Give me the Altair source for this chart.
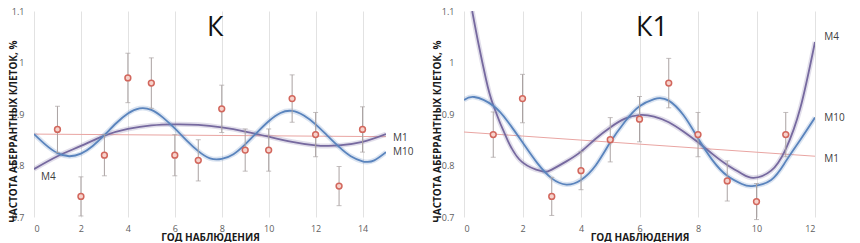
import altair as alt
import pandas as pd

# ---------------- Panel "К" ----------------
K_X = list(range(1, 15))
K_Y = [0.87, 0.74, 0.82, 0.97, 0.96, 0.82, 0.81, 0.91, 0.83, 0.83, 0.93, 0.86, 0.76, 0.87]
K_ERR = [0.045, 0.038, 0.04, 0.048, 0.049, 0.04, 0.04, 0.046, 0.041, 0.041, 0.046, 0.043, 0.038, 0.044]

K_M1_X = [0, 15]
K_M1_Y = [0.861, 0.856]

K_M4_X = [0, 1, 2, 3, 4, 5, 6, 7, 8, 9, 10, 11, 12, 12.5, 13, 14, 15]
K_M4_Y = [0.793, 0.818, 0.838, 0.858, 0.871, 0.878, 0.880, 0.879, 0.874, 0.866, 0.856,
          0.846, 0.839, 0.838, 0.839, 0.846, 0.861]

K_M10_X = [0, 0.5, 1, 1.5, 2, 2.5, 3, 3.5, 4, 4.5, 5, 5.5, 6, 6.5, 7, 7.5, 8, 8.5, 9, 9.5,
           10, 10.5, 11, 11.5, 12, 12.5, 13, 13.5, 14, 14.2, 14.5, 15]
K_M10_Y = [0.861, 0.840, 0.824, 0.818, 0.823, 0.838, 0.859, 0.882, 0.901, 0.911, 0.908,
           0.893, 0.872, 0.849, 0.828, 0.814, 0.813, 0.822, 0.841, 0.864, 0.886, 0.902,
           0.906, 0.897, 0.880, 0.858, 0.836, 0.818, 0.808, 0.807, 0.810, 0.826]

K_LAB_X = [15.3, 15.3, 0.3]
K_LAB_Y = [0.853, 0.826, 0.778]
K_LAB_T = ["M1", "M10", "M4"]

K_TITLE = "К"
K_TITLE_X = 7.72
K_TITLE_Y = 1.052

# ---------------- Panel "К1" ----------------
K1_X = list(range(1, 12))
K1_Y = [0.86, 0.93, 0.74, 0.79, 0.85, 0.89, 0.96, 0.86, 0.77, 0.73, 0.86]
K1_ERR = [0.044, 0.047, 0.037, 0.037, 0.043, 0.044, 0.048, 0.043, 0.039, 0.035, 0.043]

K1_M1_X = [0, 12]
K1_M1_Y = [0.865, 0.818]

K1_M4_X = [0.28, 0.5, 0.75, 1, 1.5, 2, 2.65, 3, 3.5, 4, 4.5, 5, 5.5, 6, 6.5, 7, 7.5, 8,
           8.5, 9, 9.5, 9.9, 10.5, 11, 11.5, 12]
K1_M4_Y = [1.10, 1.035, 0.968, 0.917, 0.848, 0.806, 0.789, 0.792, 0.808, 0.827, 0.852,
           0.874, 0.891, 0.898, 0.895, 0.884, 0.866, 0.845, 0.822, 0.801, 0.784, 0.776,
           0.790, 0.832, 0.912, 1.04]

K1_M10_X = [0, 0.35, 1, 1.5, 2, 2.5, 3, 3.5, 4, 4.5, 5, 5.5, 6, 6.5, 6.7, 7, 7.5, 8, 8.5,
            9, 9.5, 9.85, 10.5, 11, 11.5, 12]
K1_M10_Y = [0.927, 0.933, 0.916, 0.885, 0.845, 0.805, 0.775, 0.763, 0.772, 0.800, 0.845,
            0.885, 0.915, 0.929, 0.931, 0.926, 0.898, 0.853, 0.810, 0.780, 0.764, 0.760,
            0.772, 0.808, 0.850, 0.893]

K1_LAB_X = [12.32, 12.32, 12.32]
K1_LAB_Y = [1.05, 0.892, 0.813]
K1_LAB_T = ["M4", "M10", "M1"]

K1_TITLE = "К1"
K1_TITLE_X = 6.43
K1_TITLE_Y = 1.052

Y_TICKS = [0.7, 0.8, 0.9, 1.0, 1.1]

FONT = "Open Sans"
C_M1 = "#e9a5a2"
C_M4 = "#76699f"
C_M10 = "#5a84bd"
C_ERR = "#aaa2a2"
C_PT_FILL = "#f7d3cc"
C_PT_STROKE = "#d2675d"


def panel(title, tx, ty, xs, ys, errs, m1x, m1y, m4x, m4y, m10x, m10y,
          lx, ly, lt, xmax, xticks, width, title_x):
    pts = pd.DataFrame({"x": xs, "y": ys,
                        "lo": [v - e for v, e in zip(ys, errs)],
                        "hi": [v + e for v, e in zip(ys, errs)]})
    caps = pd.DataFrame({"x": xs + xs, "y": list(pts["lo"]) + list(pts["hi"])})
    m1 = pd.DataFrame({"x": m1x, "y": m1y})
    m4 = pd.DataFrame({"x": m4x, "y": m4y})
    m10 = pd.DataFrame({"x": m10x, "y": m10y})
    labs = pd.DataFrame({"x": lx, "y": ly, "t": lt})
    ttl = pd.DataFrame({"x": [tx], "y": [ty], "t": [title]})

    xscale = alt.Scale(domain=[0, xmax], nice=False, zero=False)
    yscale = alt.Scale(domain=[0.7, 1.1], nice=False, zero=False)
    xaxis = alt.Axis(values=xticks, grid=True, gridColor="#e2e2e2", domain=False,
                     ticks=False, labelColor="#606060", labelFontSize=9, labelFont=FONT,
                     labelPadding=7, title="ГОД НАБЛЮДЕНИЯ", titleFont=FONT,
                     titleFontSize=10, titleFontWeight="bold", titleColor="#1a1a1a",
                     titleY=15, titleBaseline="top")
    yaxis = alt.Axis(values=Y_TICKS, format="~g", grid=False, domain=False, ticks=False,
                     labelColor="#606060", labelFontSize=9, labelFont=FONT,
                     labelPadding=10, title="ЧАСТОТА  АБЕРРАНТНЫХ КЛЕТОК, %",
                     titleFont=FONT, titleFontSize=10, titleFontWeight="bold",
                     titleColor="#1a1a1a", titleX=title_x, titleY=120,
                     titleBaseline="bottom", titleAlign="center")
    X = alt.X("x:Q", scale=xscale, axis=xaxis)
    Y = alt.Y("y:Q", scale=yscale, axis=yaxis)

    def curve(df, color):
        glow = alt.Chart(df).mark_line(color=color, strokeWidth=5, opacity=0.22,
                                       interpolate="natural", clip=True).encode(x=X, y=Y)
        line = alt.Chart(df).mark_line(color=color, strokeWidth=1.8,
                                       interpolate="natural", clip=True).encode(x=X, y=Y)
        return [glow, line]

    m1_line = alt.Chart(m1).mark_line(color=C_M1, strokeWidth=1).encode(x=X, y=Y)
    rules = alt.Chart(pts).mark_rule(color=C_ERR, strokeWidth=1).encode(
        x=X, y=alt.Y("lo:Q", scale=yscale, axis=yaxis), y2="hi:Q")
    cap = alt.Chart(caps).mark_tick(orient="horizontal", size=5, thickness=1,
                                    color=C_ERR).encode(x=X, y=Y)
    dots = alt.Chart(pts).mark_circle(size=34, color=C_PT_FILL, stroke=C_PT_STROKE,
                                      strokeWidth=1.5, opacity=1).encode(x=X, y=Y)
    text = alt.Chart(labs).mark_text(align="left", baseline="middle", fontSize=10,
                                     font=FONT, color="#404040").encode(x=X, y=Y, text="t:N")
    head = alt.Chart(ttl).mark_text(align="center", baseline="alphabetic", fontSize=27,
                                    font=FONT, color="#111111").encode(x=X, y=Y, text="t:N")

    layers = [m1_line] + curve(m4, C_M4) + curve(m10, C_M10) + [rules, cap, dots, text, head]
    return alt.layer(*layers).properties(width=width, height=206)


left = panel(K_TITLE, K_TITLE_X, K_TITLE_Y, K_X, K_Y, K_ERR, K_M1_X, K_M1_Y,
             K_M4_X, K_M4_Y, K_M10_X, K_M10_Y, K_LAB_X, K_LAB_Y, K_LAB_T,
             15, list(range(0, 15, 2)), 352, -16)
right = panel(K1_TITLE, K1_TITLE_X, K1_TITLE_Y, K1_X, K1_Y, K1_ERR, K1_M1_X, K1_M1_Y,
              K1_M4_X, K1_M4_Y, K1_M10_X, K1_M10_Y, K1_LAB_X, K1_LAB_Y, K1_LAB_T,
              12, list(range(0, 13, 2)), 351, -22)

chart = alt.hconcat(left, right, spacing=78, bounds="flush").properties(
    padding={"left": 0, "top": -1, "right": 0, "bottom": 0}
).configure_view(stroke=None)

chart.save("out.html", embed_options={"renderer": "svg", "actions": False})
